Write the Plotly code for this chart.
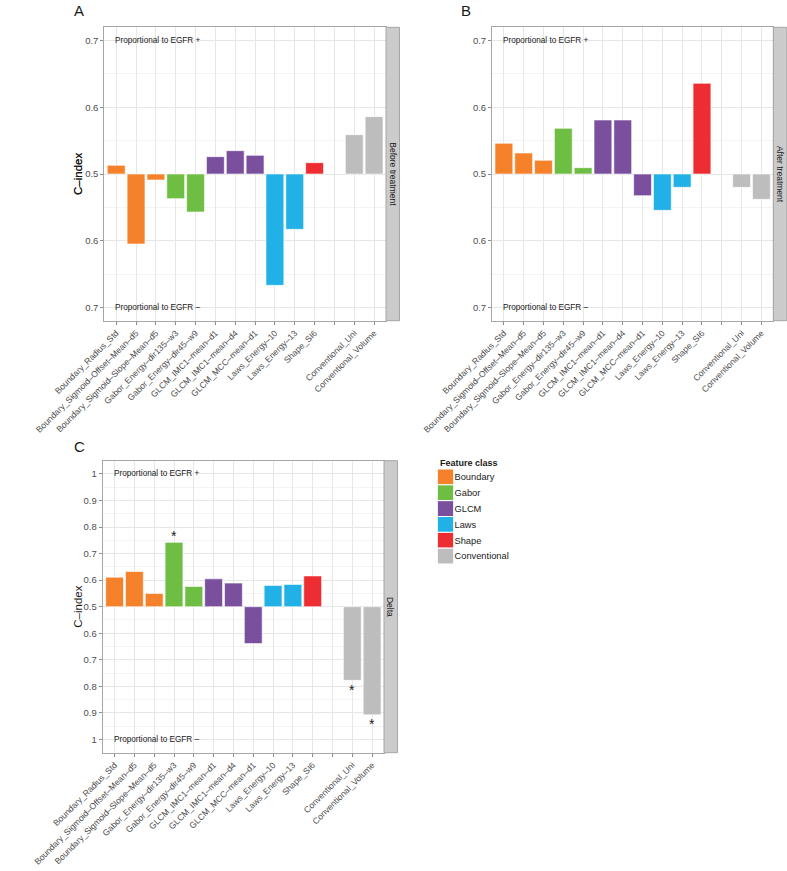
import plotly.graph_objects as go

# ---------------- data ----------------
categories = [
    "Boundary_Radius_Std", "Boundary_Sigmoid–Offset–Mean–d5", "Boundary_Sigmoid–Slope–Mean–d5",
    "Gabor_Energy–dir135–w3", "Gabor_Energy–dir45–w9",
    "GLCM_IMC1–mean–d1", "GLCM_IMC1–mean–d4", "GLCM_MCC–mean–d1",
    "Laws_Energy–10", "Laws_Energy–13", "Shape_SI6", " ",
    "Conventional_Uni", "Conventional_Volume",
]
feature_class = ["Boundary", "Boundary", "Boundary", "Gabor", "Gabor", "GLCM", "GLCM", "GLCM",
                 "Laws", "Laws", "Shape", None, "Conventional", "Conventional"]

# signed C-index offset from 0.5 (+ : proportional to EGFR+, - : proportional to EGFR-)
before_treatment = [0.013, -0.105, -0.009, -0.037, -0.057, 0.026, 0.035, 0.028,
                    -0.167, -0.083, 0.017, None, 0.059, 0.086]
after_treatment = [0.046, 0.0315, 0.0205, 0.0685, 0.0095, 0.081, 0.081, -0.0325,
                   -0.0545, -0.020, 0.136, None, -0.020, -0.038]
delta = [0.111, 0.1325, 0.050, 0.2425, 0.076, 0.105, 0.089, -0.139,
         0.080, 0.084, 0.116, None, -0.2775, -0.4075]
delta_significant = [False, False, False, True, False, False, False, False,
                     False, False, False, False, True, True]

class_order = ["Boundary", "Gabor", "GLCM", "Laws", "Shape", "Conventional"]
class_colors = ["#F5812A", "#6EBE44", "#7A4F9E", "#21B1E6", "#EE2D32", "#BEBDBD"]

ab_tickvals = [-0.2, -0.1, 0.0, 0.1, 0.2]
ab_ticktext = ["0.7", "0.6", "0.5", "0.6", "0.7"]
c_tickvals = [-0.5, -0.4, -0.3, -0.2, -0.1, 0.0, 0.1, 0.2, 0.3, 0.4, 0.5]
c_ticktext = ["1", "0.9", "0.8", "0.7", "0.6", "0.5", "0.6", "0.7", "0.8", "0.9", "1"]

# ---------------- layout helpers ----------------
W, H = 787, 871
FONT = "Liberation Sans, Arial, Helvetica, sans-serif"


def fx(p):
    return p / W


def fy(p):
    return 1 - p / H


panels = [
    dict(key="", values=before_treatment, strip="Before treatment", letter="A",
         x=(104.3, 386.0), y=(27.3, 320.7), rng=0.22, tv=ab_tickvals, tt=ab_ticktext,
         top=0.2, letter_xy=(79, 10.5)),
    dict(key="2", values=after_treatment, strip="After treatment", letter="B",
         x=(492.0, 773.3), y=(27.3, 320.7), rng=0.22, tv=ab_tickvals, tt=ab_ticktext,
         top=0.2, letter_xy=(466, 10.5)),
    dict(key="3", values=delta, strip="Delta", letter="C",
         x=(102.7, 384.0), y=(460.7, 752.7), rng=0.55, tv=c_tickvals, tt=c_ticktext,
         top=0.5, letter_xy=(79, 446.5)),
]

fig = go.Figure()
annotations = []
shapes = []
layout_axes = {}

for pi, p in enumerate(panels):
    k = p["key"]
    xa, ya = "x" + k, "y" + k
    # register all categories (incl. the blank spacer)
    fig.add_trace(go.Scatter(x=categories, y=[None] * len(categories), mode="markers",
                             showlegend=False, hoverinfo="skip", xaxis=xa, yaxis=ya))
    for cls, col in zip(class_order, class_colors):
        xs = [c for c, f in zip(categories, feature_class) if f == cls]
        ys = [v for v, f in zip(p["values"], feature_class) if f == cls]
        fig.add_trace(go.Bar(
            x=xs, y=ys, name=cls, legendgroup=cls, showlegend=False,
            marker=dict(color=col, line=dict(color="white", width=0.6)),
            width=0.9, xaxis=xa, yaxis=ya,
        ))

    grid_major = "#e6e6e6"
    layout_axes["xaxis" + k] = dict(
        domain=[fx(p["x"][0]), fx(p["x"][1])], anchor=ya, type="category",
        categoryorder="array", categoryarray=categories, range=[-0.6, 13.6],
        tickangle=-45, tickfont=dict(size=8.6, color="#4d4d4d", family=FONT),
        ticks="outside", ticklen=3, tickcolor="#8c8c8c",
        showgrid=True, gridcolor=grid_major, gridwidth=1,
        showline=True, mirror=True, linecolor="#a6a6a6", linewidth=1,
        automargin=False, fixedrange=True,
    )
    layout_axes["yaxis" + k] = dict(
        domain=[fy(p["y"][1]), fy(p["y"][0])], anchor=xa,
        range=[-p["rng"], p["rng"]], tickmode="array", tickvals=p["tv"], ticktext=p["tt"],
        tickfont=dict(size=9.5, color="#4d4d4d", family=FONT),
        ticks="outside", ticklen=3, tickcolor="#8c8c8c",
        showgrid=True, gridcolor=grid_major, gridwidth=1, zeroline=False,
        minor=dict(tickmode="linear", tick0=0, dtick=0.05, showgrid=True,
                   gridcolor="#f4f4f4", gridwidth=1),
        showline=True, mirror=True, linecolor="#a6a6a6", linewidth=1,
        automargin=False, fixedrange=True,
    )

    xdom = "x" + k + " domain"
    ydom = "y" + k + " domain"
    pw = p["x"][1] - p["x"][0]
    strip_w = 13.5
    shapes.append(dict(type="rect", xref=xdom, yref=ydom, x0=1, x1=1 + strip_w / pw,
                       y0=0, y1=1, fillcolor="#cbcbcb", line=dict(color="#a6a6a6", width=1),
                       layer="above"))
    annotations.append(dict(xref=xdom, yref=ydom, x=1 + strip_w / 2 / pw, y=0.5,
                            text=p["strip"], textangle=90, showarrow=False,
                            font=dict(size=8.5, color="#1a1a1a", family=FONT),
                            xanchor="center", yanchor="middle"))
    # direction labels
    annotations.append(dict(xref=xdom, yref=ya, x=0.032, y=p["top"], text="Proportional to EGFR +",
                            showarrow=False, xanchor="left", yanchor="middle",
                            font=dict(size=8.2, color="#1a1a1a", family=FONT)))
    annotations.append(dict(xref=xdom, yref=ya, x=0.032, y=-p["top"], text="Proportional to EGFR –",
                            showarrow=False, xanchor="left", yanchor="middle",
                            font=dict(size=8.2, color="#1a1a1a", family=FONT)))
    # y title
    annotations.append(dict(xref="paper", yref=ydom, x=fx(78), y=0.5, text="C–index",
                            textangle=-90, showarrow=False, xanchor="center", yanchor="middle",
                            font=dict(size=11.5, color="#1a1a1a", family=FONT)))
    # panel letter
    annotations.append(dict(xref="paper", yref="paper", x=fx(p["letter_xy"][0]),
                            y=fy(p["letter_xy"][1]), text=p["letter"], showarrow=False,
                            xanchor="center", yanchor="middle",
                            font=dict(size=15, color="#1a1a1a", family=FONT)))

# significance stars for delta panel
for c, v, s in zip(categories, delta, delta_significant):
    if s and v is not None:
        off = 0.022 if v > 0 else -0.035
        annotations.append(dict(xref="x3", yref="y3", x=c, y=v + off, text="*",
                                showarrow=False, xanchor="center", yanchor="middle",
                                font=dict(size=14, color="#1a1a1a", family=FONT)))

# ---------------- legend (Feature class) as a small key axis ----------------
fig.add_trace(go.Bar(
    x=[1] * len(class_order), y=class_order, orientation="h", width=1,
    marker=dict(color=class_colors, line=dict(color="white", width=1)),
    showlegend=False, hoverinfo="skip", xaxis="x4", yaxis="y4",
))
layout_axes["xaxis4"] = dict(domain=[fx(437.5), fx(453.5)], anchor="y4", range=[0, 1],
                             visible=False, fixedrange=True)
layout_axes["yaxis4"] = dict(domain=[fy(564), fy(469)], anchor="x4", type="category",
                             categoryorder="array", categoryarray=class_order,
                             range=[len(class_order) - 0.5, -0.5], side="right",
                             showgrid=False, showline=False, zeroline=False, ticks="",
                             tickfont=dict(size=9.3, color="#1a1a1a", family=FONT),
                             automargin=False, fixedrange=True)
annotations.append(dict(xref="paper", yref="paper", x=fx(437.5), y=fy(463),
                        text="<b>Feature class</b>", showarrow=False,
                        xanchor="left", yanchor="middle",
                        font=dict(size=9, color="#1a1a1a", family=FONT)))

fig.update_layout(
    width=W, height=H, margin=dict(l=0, r=0, t=0, b=0),
    paper_bgcolor="white", plot_bgcolor="white",
    barmode="overlay", bargap=0,
    font=dict(family=FONT, size=9, color="#1a1a1a"),
    showlegend=False, hovermode=False,
    annotations=annotations, shapes=shapes,
    **layout_axes,
)

# place the fixed-size figure at the page origin (remove the default body margin)
fig.write_html("out.html", config={"displayModeBar": False, "staticPlot": True},
               post_script="document.body.style.margin='0px';")
